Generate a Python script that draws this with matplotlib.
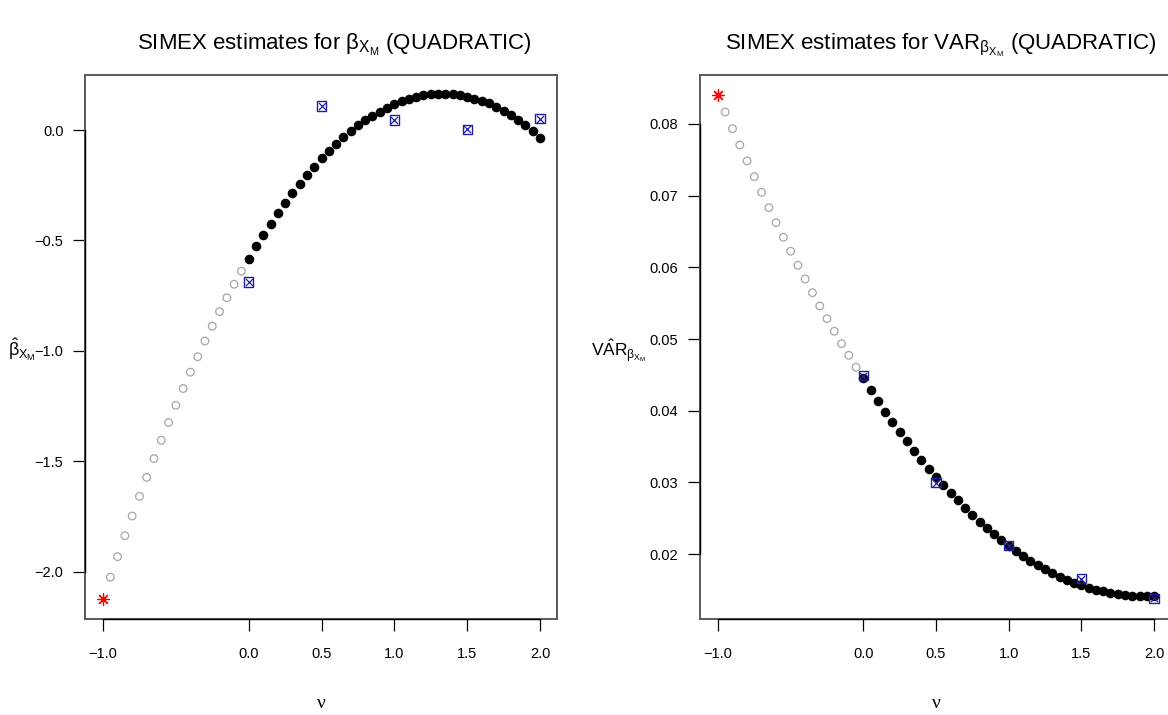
import matplotlib
matplotlib.use("Agg")
import matplotlib.pyplot as plt

plt.rcParams["font.family"] = ["Liberation Sans", "DejaVu Sans"]
plt.rcParams["mathtext.fontset"] = "custom"
plt.rcParams["mathtext.rm"] = "Liberation Sans"
plt.rcParams["mathtext.it"] = "Liberation Sans"

# lambda grid
NU_EXTRAP = [-0.95, -0.90, -0.85, -0.80, -0.75, -0.70, -0.65, -0.60, -0.55, -0.50,
             -0.45, -0.40, -0.35, -0.30, -0.25, -0.20, -0.15, -0.10, -0.05]
NU_FIT = [0.00, 0.05, 0.10, 0.15, 0.20, 0.25, 0.30, 0.35, 0.40, 0.45,
          0.50, 0.55, 0.60, 0.65, 0.70, 0.75, 0.80, 0.85, 0.90, 0.95,
          1.00, 1.05, 1.10, 1.15, 1.20, 1.25, 1.30, 1.35, 1.40, 1.45,
          1.50, 1.55, 1.60, 1.65, 1.70, 1.75, 1.80, 1.85, 1.90, 1.95, 2.00]
NU_SIM = [0.0, 0.5, 1.0, 1.5, 2.0]
NU_SIMEX = [-1.0]
X_TICKS = [-1.0, 0.0, 0.5, 1.0, 1.5, 2.0]

# beta panel
BETA_EXTRAP = [-2.024, -1.931, -1.836, -1.747, -1.658, -1.572, -1.487, -1.404, -1.324, -1.246,
               -1.170, -1.096, -1.026, -0.955, -0.888, -0.822, -0.759, -0.698, -0.639]
BETA_FIT = [-0.582, -0.526, -0.475, -0.425, -0.376, -0.329, -0.285, -0.243, -0.204, -0.166,
            -0.128, -0.095, -0.063, -0.033, -0.006, 0.021, 0.044, 0.065, 0.083, 0.101,
            0.116, 0.130, 0.140, 0.149, 0.157, 0.161, 0.163, 0.163, 0.161, 0.157,
            0.151, 0.142, 0.133, 0.121, 0.105, 0.087, 0.066, 0.045, 0.021, -0.006, -0.035]
BETA_SIM = [-0.688, 0.109, 0.045, 0.003, 0.051]
BETA_SIMEX = [-2.122]
BETA_YTICKS = [-2.0, -1.5, -1.0, -0.5, 0.0]

# variance panel
VAR_EXTRAP = [0.08167, 0.07935, 0.07707, 0.07484, 0.07265, 0.07047, 0.06833, 0.06623, 0.06420, 0.06225,
              0.06029, 0.05838, 0.05647, 0.05462, 0.05285, 0.05109, 0.04936, 0.04774, 0.04607]
VAR_FIT = [0.04452, 0.04289, 0.04130, 0.03982, 0.03842, 0.03703, 0.03572, 0.03442, 0.03312, 0.03191,
           0.03075, 0.02965, 0.02858, 0.02752, 0.02649, 0.02551, 0.02454, 0.02366, 0.02278, 0.02194,
           0.02119, 0.02040, 0.01970, 0.01905, 0.01845, 0.01789, 0.01738, 0.01686, 0.01644, 0.01602,
           0.01566, 0.01532, 0.01505, 0.01482, 0.01459, 0.01445, 0.01431, 0.01421, 0.01417, 0.01415, 0.01417]
VAR_SIM = [0.04487, 0.02997, 0.02119, 0.01658, 0.01385]
VAR_SIMEX = [0.08404]
VAR_YTICKS = [0.02, 0.03, 0.04, 0.05, 0.06, 0.07, 0.08]

W, H = 1168, 715
BLUE = "#1f1fa0"
GREY = "#a6a6a6"


def fmt(value, spec):
    return spec.format(value).replace("-", "\u2212")


def simex_panel(ax, extrap, fit, sim, simex, yticks, ylim, yfmt):
    ax.scatter(NU_EXTRAP, extrap, s=30, facecolors="none", edgecolors=GREY, linewidths=0.9, zorder=2)
    ax.scatter(NU_FIT, fit, s=48, color="black", linewidths=0, zorder=3)
    ax.scatter(NU_SIM, sim, s=44, marker="s", facecolors="none", edgecolors=BLUE, linewidths=1.0, zorder=4)
    ax.scatter(NU_SIM, sim, s=26, marker="x", color=BLUE, linewidths=0.9, zorder=4)
    ax.scatter(NU_SIMEX, simex, s=70, marker=(8, 2, 0), color="red", linewidths=0.9, zorder=4)

    ax.set_xlim(-1.1236, 2.1167)
    ax.set_ylim(*ylim)
    ax.set_xticks(X_TICKS)
    ax.set_xticklabels([fmt(t, "{:.1f}") for t in X_TICKS])
    ax.set_yticks(yticks)
    ax.set_yticklabels([fmt(t, yfmt) for t in yticks])
    ax.tick_params(axis="x", length=8.5, width=0.9, pad=12, labelsize=10.5)
    ax.tick_params(axis="y", length=8.5, width=0.9, pad=7, labelsize=10.5)
    for sp in ax.spines.values():
        sp.set_color("#5a5a5a")
        sp.set_linewidth(1.4)
    # axis lines spanning the tick range, like R's axis()
    ax.plot([X_TICKS[0], X_TICKS[-1]], [ylim[0], ylim[0]], color="black", lw=1.0, clip_on=False, zorder=5)
    ax.plot([-1.1236, -1.1236], [yticks[0], yticks[-1]], color="black", lw=1.0, clip_on=False, zorder=5)


fig = plt.figure(figsize=(W / 100, H / 100), dpi=100)

ax1 = fig.add_axes([85 / W, (H - 619) / H, 472 / W, 544 / H])
simex_panel(ax1, BETA_EXTRAP, BETA_FIT, BETA_SIM, BETA_SIMEX, BETA_YTICKS, (-2.213, 0.249), "{:.1f}")

ax2 = fig.add_axes([700 / W, (H - 619) / H, 471 / W, 544 / H])
simex_panel(ax2, VAR_EXTRAP, VAR_FIT, VAR_SIM, VAR_SIMEX, VAR_YTICKS, (0.01096, 0.08683), "{:.2f}")

fig.text(334 / W, 1 - 45 / H, r"SIMEX estimates for $\beta_{X_M}$ (QUADRATIC)",
         ha="center", va="center", fontsize=16)
fig.text(941 / W, 1 - 45 / H, r"SIMEX estimates for $\mathrm{VAR}_{\beta_{X_M}}$ (QUADRATIC)",
         ha="center", va="center", fontsize=16)

fig.text(8 / W, 1 - 350 / H, r"$\hat{\beta}_{X_M}$", ha="left", va="center", fontsize=13)
fig.text(591 / W, 1 - 351 / H, r"$V\hat{A}R_{\beta_{X_M}}$", ha="left", va="center", fontsize=12.5)

fig.text(321 / W, 1 - 703 / H, "ν", ha="center", va="center", fontsize=14, family="Liberation Serif")
fig.text(936 / W, 1 - 703 / H, "ν", ha="center", va="center", fontsize=14, family="Liberation Serif")

fig.savefig("out.png", dpi=100)
